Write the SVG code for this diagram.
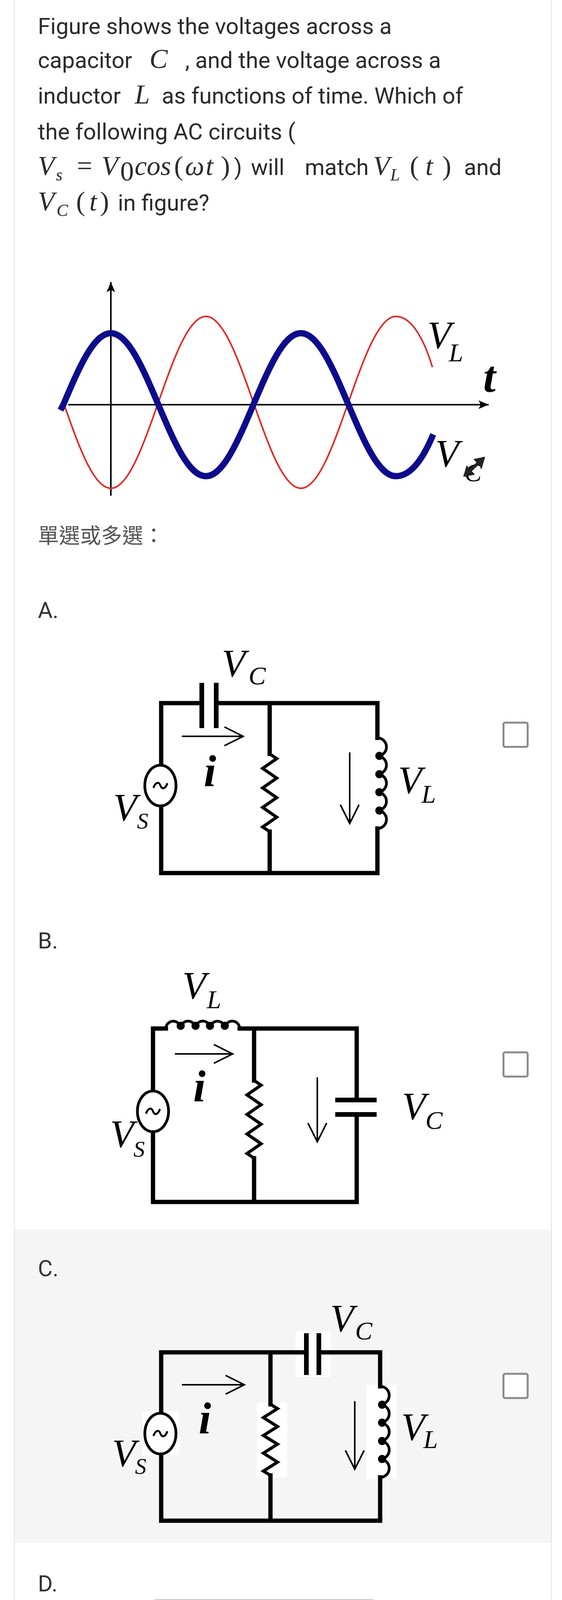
<svg xmlns="http://www.w3.org/2000/svg" width="1440" height="6259" viewBox="0 0 1440 6259">
<style>
.q{font-family:Roboto,"Liberation Sans",sans-serif;font-size:58px;fill:#2b2b2b}
.m{font-family:"Liberation Serif",serif;font-style:italic;font-size:70px;fill:#2b2b2b}
.mu{font-family:"Liberation Serif",serif;font-style:normal;font-size:70px;fill:#2b2b2b}
.lab{font-family:"Liberation Serif",serif;font-style:italic;font-size:100px;fill:#000}
.sub{font-family:"Liberation Serif",serif;font-style:italic;font-size:66px;fill:#000}
.ss{font-family:"Liberation Serif",serif;font-style:italic;font-size:58px;fill:#000}
.ii{font-family:"Liberation Serif",serif;font-style:italic;font-weight:bold;font-size:115px;fill:#000}
.w{fill:none;stroke:#000;stroke-width:11;stroke-linecap:square}
.wf{fill:none;stroke:#000;stroke-width:15;stroke-linecap:square}
.pl{fill:none;stroke:#000;stroke-width:12}
.rz{fill:none;stroke:#000;stroke-width:8;stroke-linejoin:miter}
.ind{fill:none;stroke:#000;stroke-width:7}
.src{fill:#fff;stroke:#000;stroke-width:7}
.til{fill:none;stroke:#000;stroke-width:5}
.ar{fill:none;stroke:#000;stroke-width:4;marker-end:url(#oh)}
.cb{fill:#fff;stroke:#8a8a8a;stroke-width:5}
.opt{font-family:Roboto,"Liberation Sans",sans-serif;font-size:58px;fill:#333}
</style>
<defs>
<marker id="oh" markerUnits="userSpaceOnUse" markerWidth="60" markerHeight="60" refX="0" refY="0" viewBox="-50 -30 60 60" orient="auto" overflow="visible">
<path d="M-48,-24 L0,0 L-48,24" fill="none" stroke="#000" stroke-width="4"/>
</marker>
<marker id="fh" markerUnits="userSpaceOnUse" markerWidth="40" markerHeight="40" viewBox="-30 -15 40 30" refX="0" refY="0" orient="auto" overflow="visible">
<path d="M-26,-11 L0,0 L-26,11 L-20,0 Z" fill="#000"/>
</marker>
<marker id="ih" markerUnits="userSpaceOnUse" markerWidth="40" markerHeight="40" viewBox="-30 -20 40 40" refX="0" refY="0" orient="auto" overflow="visible">
<path d="M-22,-16 L4,0 L-22,16 Z" fill="#222"/>
</marker>
</defs>
<rect x="0" y="0" width="1440" height="6259" fill="#fff"/>
<rect x="37" y="3147" width="1376" height="803" fill="#f5f5f5"/>
<line x1="37" y1="0" x2="37" y2="6259" stroke="#e2e2e2" stroke-width="2"/>
<line x1="1413" y1="0" x2="1413" y2="6259" stroke="#e2e2e2" stroke-width="2"/>

<g id="question">
<text class="q" x="97" y="87">Figure shows the voltages across a</text>
<text class="q" x="97" y="174">capacitor <tspan class="m" x="383">C</tspan><tspan x="460"> , and the voltage across a</tspan></text>
<text class="q" x="97" y="265">inductor <tspan class="m" x="345">L</tspan><tspan x="400"> as functions of time. Which of</tspan></text>
<text class="q" x="97" y="357">the following AC circuits (</text>
<text class="m" y="448"><tspan x="97">V</tspan><tspan x="143" y="462" font-size="44">s</tspan><tspan class="mu" x="197" y="448">=</tspan><tspan x="260">V</tspan><tspan class="mu" x="308" y="462" font-size="44">0</tspan><tspan x="345" y="448">cos</tspan><tspan class="mu" x="446" font-size="84">(</tspan><tspan x="474">ω</tspan><tspan x="527">t</tspan><tspan class="mu" x="566" font-size="84">)</tspan><tspan class="q" x="600" font-style="normal">)</tspan><tspan class="q" x="643" font-style="normal">will</tspan><tspan class="q" x="781" font-style="normal">match</tspan><tspan x="956">V</tspan><tspan x="1000" y="462" font-size="44">L</tspan><tspan class="mu" x="1050" y="448" font-size="84">(</tspan><tspan x="1090">t</tspan><tspan class="mu" x="1133" font-size="84">)</tspan><tspan class="q" x="1189" font-style="normal">and</tspan></text>
<text class="m" y="539"><tspan x="97">V</tspan><tspan x="145" y="553" font-size="44">C</tspan><tspan class="mu" x="195" y="539" font-size="84">(</tspan><tspan x="229">t</tspan><tspan class="mu" x="256" font-size="84">)</tspan><tspan class="q" x="302" font-style="normal">in figure?</tspan></text>
</g>

<g id="graph">
<line x1="284" y1="1269" x2="284" y2="722" stroke="#000" stroke-width="4" marker-end="url(#fh)"/>
<line x1="175" y1="1036" x2="1252" y2="1036" stroke="#000" stroke-width="4" marker-end="url(#fh)"/>
<path d="M162.25,1030 C201.95,1142.7 239.95,1250 284,1250 C328.05,1250 366.05,1142.7 405.75,1030 C445.45,917.3 483.45,810 527.5,810 C571.55,810 609.55,917.3 649.25,1030 C688.95,1142.7 726.95,1250 771,1250 C815.05,1250 853.05,1142.7 892.75,1030 C932.45,917.3 970.45,810 1014.5,810 C1058.55,810 1090,880 1108,940" fill="none" stroke="#e8231f" stroke-width="4"/>
<path d="M155,1050 L162.25,1036 C201.95,942.3 239.95,853 284,853 C328.05,853 366.05,942.3 405.75,1036 C445.45,1129.7 483.45,1219 527.5,1219 C571.55,1219 609.55,1129.7 649.25,1036 C688.95,942.3 726.95,853 771,853 C815.05,853 853.05,942.3 892.75,1036 C932.45,1129.7 970.45,1219 1014.5,1219 C1058.55,1219 1090,1160 1110,1112" fill="none" stroke="#0c0c8c" stroke-width="16"/>
<text class="lab" x="1095" y="891" font-size="110">V</text>
<text class="sub" x="1150" y="925" font-size="75">L</text>
<text class="ii" x="1238" y="1003" font-size="62">t</text>
<text class="lab" x="1115" y="1194" font-size="110">V</text>
<text class="sub" x="1190" y="1232" font-size="75" fill="#999">C</text>
<line x1="1214" y1="1196" x2="1190" y2="1218" stroke="#222" stroke-width="8" marker-end="url(#ih)"/>
<line x1="1214" y1="1196" x2="1240" y2="1172" stroke="#222" stroke-width="8" marker-end="url(#ih)"/>
</g>

<text x="97" y="1391" font-family="'Noto Sans CJK TC','Noto Sans CJK SC',sans-serif" font-size="54" fill="#555">單選或多選：</text>

<text class="opt" x="97" y="1582">A.</text>
<g id="circuitA">
<path class="w" d="M413,1959 V1800 H517 M554,1800 H967 V1889 M967,2121 V2235 H413 V2063 M691,1800 V1930 M691,2129 V2235"/>
<path class="pl" d="M517,1748 V1864 M554,1748 V1864"/>
<path class="rz" d="M691,1930 L709,1942 L673,1967 L709,1992 L673,2017 L709,2042 L673,2067 L709,2092 L673,2117 L691,2129"/>
<path class="ind" d="M967,1889 a23.2,23.2 0 0 1 0,46.4 a23.2,23.2 0 0 1 0,46.4 a23.2,23.2 0 0 1 0,46.4 a23.2,23.2 0 0 1 0,46.4 a23.2,23.2 0 0 1 0,46.4"/>
<g class="ind"><circle cx="972" cy="1935" r="7"/><circle cx="972" cy="1982" r="7"/><circle cx="972" cy="2028" r="7"/><circle cx="972" cy="2075" r="7"/></g>
<ellipse class="src" cx="411" cy="2011" rx="40" ry="52"/>
<path class="til" d="M393,2017 c6,-16 14,-16 18,-6 s12,10 18,-6"/>
<line class="ar" x1="466" y1="1885" x2="623" y2="1885"/>
<line class="ar" x1="896" y1="1926" x2="896" y2="2108"/>
<text class="lab" x="568" y="1731">V</text><text class="sub" x="637" y="1752">C</text>
<text class="ii" x="522" y="2013">i</text>
<text class="lab" x="290" y="2100">V</text><text class="ss" x="351" y="2121">S</text>
<text class="lab" x="1020" y="2030">V</text><text class="sub" x="1080" y="2055">L</text>
</g>
<rect class="cb" x="1290" y="1850" width="62" height="62" rx="4"/>

<text class="opt" x="97" y="2428">B.</text>
<g id="circuitB">
<path class="w" d="M392,2793 V2633 H425 M614,2633 H914 V2816 M914,2853 V3077 H392 V2897 M651,2633 V2766 M651,2965 V3077"/>
<path class="pl" d="M859,2816 H965 M859,2853 H965"/>
<path class="rz" d="M651,2766 L669,2778 L633,2803 L669,2828 L633,2853 L669,2878 L633,2903 L669,2928 L633,2953 L651,2965"/>
<path class="ind" d="M425,2633 a18.9,18.9 0 0 1 37.8,0 a18.9,18.9 0 0 1 37.8,0 a18.9,18.9 0 0 1 37.8,0 a18.9,18.9 0 0 1 37.8,0 a18.9,18.9 0 0 1 37.8,0"/>
<g class="ind"><circle cx="463" cy="2626" r="7"/><circle cx="501" cy="2626" r="7"/><circle cx="538" cy="2626" r="7"/><circle cx="576" cy="2626" r="7"/></g>
<ellipse class="src" cx="392" cy="2845" rx="40" ry="52"/>
<path class="til" d="M374,2851 c6,-16 14,-16 18,-6 s12,10 18,-6"/>
<line class="ar" x1="448" y1="2698" x2="596" y2="2698"/>
<line class="ar" x1="813" y1="2758" x2="813" y2="2923"/>
<text class="lab" x="467" y="2556">V</text><text class="sub" x="530" y="2581">L</text>
<text class="ii" x="495" y="2820">i</text>
<text class="lab" x="282" y="2936">V</text><text class="ss" x="342" y="2961">S</text>
<text class="lab" x="1030" y="2865">V</text><text class="sub" x="1090" y="2890">C</text>
</g>
<rect class="cb" x="1290" y="2694" width="62" height="62" rx="4"/>

<text class="opt" x="97" y="3267">C.</text>
<g id="circuitC">
<rect x="757" y="3408" width="91" height="117" fill="#fff"/>
<rect x="658" y="3591" width="78" height="191" fill="#fff"/>
<rect x="939" y="3545" width="77" height="241" fill="#fff"/>
<rect x="365" y="3613" width="94" height="112" fill="#fff"/>
<path class="w" d="M413,3618 V3462 H785 M817,3462 H974 V3549 M974,3782 V3893 H413 V3722 M693,3462 V3595 M693,3777 V3893"/>
<path class="pl" d="M785,3413 V3520 M817,3413 V3520"/>
<path class="rz" d="M693,3595 L711,3606 L675,3629 L711,3652 L675,3675 L711,3697 L675,3720 L711,3743 L675,3766 L693,3777"/>
<path class="ind" d="M974,3549 a23.3,23.3 0 0 1 0,46.6 a23.3,23.3 0 0 1 0,46.6 a23.3,23.3 0 0 1 0,46.6 a23.3,23.3 0 0 1 0,46.6 a23.3,23.3 0 0 1 0,46.6"/>
<g class="ind"><circle cx="979" cy="3596" r="7"/><circle cx="979" cy="3642" r="7"/><circle cx="979" cy="3689" r="7"/><circle cx="979" cy="3735" r="7"/></g>
<ellipse class="src" cx="411" cy="3670" rx="40" ry="52"/>
<path class="til" d="M393,3676 c6,-16 14,-16 18,-6 s12,10 18,-6"/>
<line class="ar" x1="466" y1="3545" x2="626" y2="3545"/>
<line class="ar" x1="909" y1="3587" x2="909" y2="3761"/>
<text class="lab" x="846" y="3408">V</text><text class="sub" x="910" y="3429">C</text>
<text class="ii" x="509" y="3670">i</text>
<text class="lab" x="287" y="3753">V</text><text class="ss" x="346" y="3773">S</text>
<text class="lab" x="1028" y="3686">V</text><text class="sub" x="1085" y="3707">L</text>
</g>
<rect class="cb" x="1290" y="3517" width="62" height="62" rx="4"/>

<text class="opt" x="97" y="4074">D.</text>
<g id="circuitD">
<path class="w" d="M403,4292 V4101 H951 V4228 M951,4493 V4592 H403 V4396 M679,4101 V4252 M679,4472 V4592 M825,4101 V4327 M825,4368 V4592"/>
<path class="pl" d="M771,4327 H877 M771,4368 H877"/>
<path class="rz" d="M679,4252 L697,4265 L661,4293 L697,4321 L661,4348 L697,4376 L661,4403 L697,4431 L661,4459 L679,4472"/>
<path class="ind" d="M951,4228 a22.1,22.1 0 0 1 0,44.2 a22.1,22.1 0 0 1 0,44.2 a22.1,22.1 0 0 1 0,44.2 a22.1,22.1 0 0 1 0,44.2 a22.1,22.1 0 0 1 0,44.2 a22.1,22.1 0 0 1 0,44.2"/>
<g class="ind"><circle cx="956" cy="4272" r="7"/><circle cx="956" cy="4316" r="7"/><circle cx="956" cy="4361" r="7"/><circle cx="956" cy="4405" r="7"/><circle cx="956" cy="4449" r="7"/></g>
<ellipse class="src" cx="406" cy="4344" rx="40" ry="52"/>
<path class="til" d="M388,4350 c6,-16 14,-16 18,-6 s12,10 18,-6"/>
<line class="ar" x1="452" y1="4132" x2="605" y2="4132"/>
<line class="ar" x1="789" y1="4431" x2="789" y2="4559"/>
<line class="ar" x1="909" y1="4431" x2="909" y2="4562"/>
<text class="lab" x="725" y="4248">V</text><text class="sub" x="789" y="4269">C</text>
<text class="ii" x="504" y="4257">i</text>
<text class="lab" x="282" y="4422">V</text><text class="ss" x="346" y="4443">S</text>
<text class="lab" x="1026" y="4397">V</text><text class="sub" x="1085" y="4418">L</text>
</g>
<rect class="cb" x="1290" y="4284" width="62" height="62" rx="4"/>

<text class="opt" x="97" y="4800">E.</text>
<g id="circuitE">
<path class="w" d="M379,5060 V4878 H660 M697,4878 H873 V4970 M873,5220 V5328 H753 M582,5328 H379 V5170"/>
<path class="pl" d="M660,4820 V4941 M697,4820 V4941"/>
<path class="rz" d="M582,5328 L592,5298 L614,5358 L635,5298 L657,5358 L678,5298 L700,5358 L721,5298 L743,5358 L753,5328"/>
<path class="ind" d="M873,4970 a20.8,20.8 0 0 1 0,41.7 a20.8,20.8 0 0 1 0,41.7 a20.8,20.8 0 0 1 0,41.7 a20.8,20.8 0 0 1 0,41.7 a20.8,20.8 0 0 1 0,41.7 a20.8,20.8 0 0 1 0,41.7"/>
<g class="ind"><circle cx="878" cy="5012" r="7"/><circle cx="878" cy="5053" r="7"/><circle cx="878" cy="5095" r="7"/><circle cx="878" cy="5137" r="7"/><circle cx="878" cy="5178" r="7"/></g>
<ellipse class="src" cx="379" cy="5115" rx="38" ry="55"/>
<path class="til" d="M361,5121 c6,-16 14,-16 18,-6 s12,10 18,-6"/>
<line class="ar" x1="425" y1="4913" x2="559" y2="4913"/>
<text class="ii" x="472" y="5028">i</text>
<text class="lab" x="675" y="5019">V</text><text class="sub" x="743" y="5044">C</text>
<text class="lab" x="952" y="5165">V</text><text class="sub" x="1006" y="5189">L</text>
<text class="lab" x="287" y="5228">V</text><text class="ss" x="351" y="5254">S</text>
</g>
<rect class="cb" x="1290" y="5025" width="62" height="62" rx="4"/>

<text class="opt" x="97" y="5538">F.</text>
<g id="circuitF">
<path class="wf" d="M400,5918 V5755 H750 M780,5755 H923 V5840 M923,6019 V6191 H400 V6022 M660,5755 V5849 M660,6086 V6191"/>
<path class="pl" d="M750,5697 V5818 M780,5697 V5818"/>
<path class="rz" d="M923,5840 L943,5851 L903,5873 L943,5896 L903,5918 L943,5941 L903,5963 L943,5986 L903,6008 L923,6019"/>
<path class="ind" d="M660,5849 a23.7,23.7 0 0 1 0,47.4 a23.7,23.7 0 0 1 0,47.4 a23.7,23.7 0 0 1 0,47.4 a23.7,23.7 0 0 1 0,47.4 a23.7,23.7 0 0 1 0,47.4"/>
<g class="ind"><circle cx="662" cy="5896" r="9"/><circle cx="662" cy="5944" r="9"/><circle cx="662" cy="5991" r="9"/><circle cx="662" cy="6039" r="9"/></g>
<ellipse class="src" cx="397" cy="5970" rx="40" ry="52"/>
<path class="til" d="M379,5976 c6,-16 14,-16 18,-6 s12,10 18,-6"/>
<line class="ar" x1="457" y1="5798" x2="605" y2="5798"/>
<line class="ar" x1="607" y1="5921" x2="607" y2="6108"/>
<text class="lab" x="809" y="5702">V</text><text class="sub" x="873" y="5724">C</text>
<text class="ii" x="491" y="5916">i</text>
<text class="lab" x="291" y="6057">V</text><text class="ss" x="351" y="6077">S</text>
<text class="lab" x="735" y="5994">V</text><text class="sub" x="792" y="6014">L</text>
</g>
<rect class="cb" x="1290" y="5813" width="62" height="62" rx="4"/>
</svg>
